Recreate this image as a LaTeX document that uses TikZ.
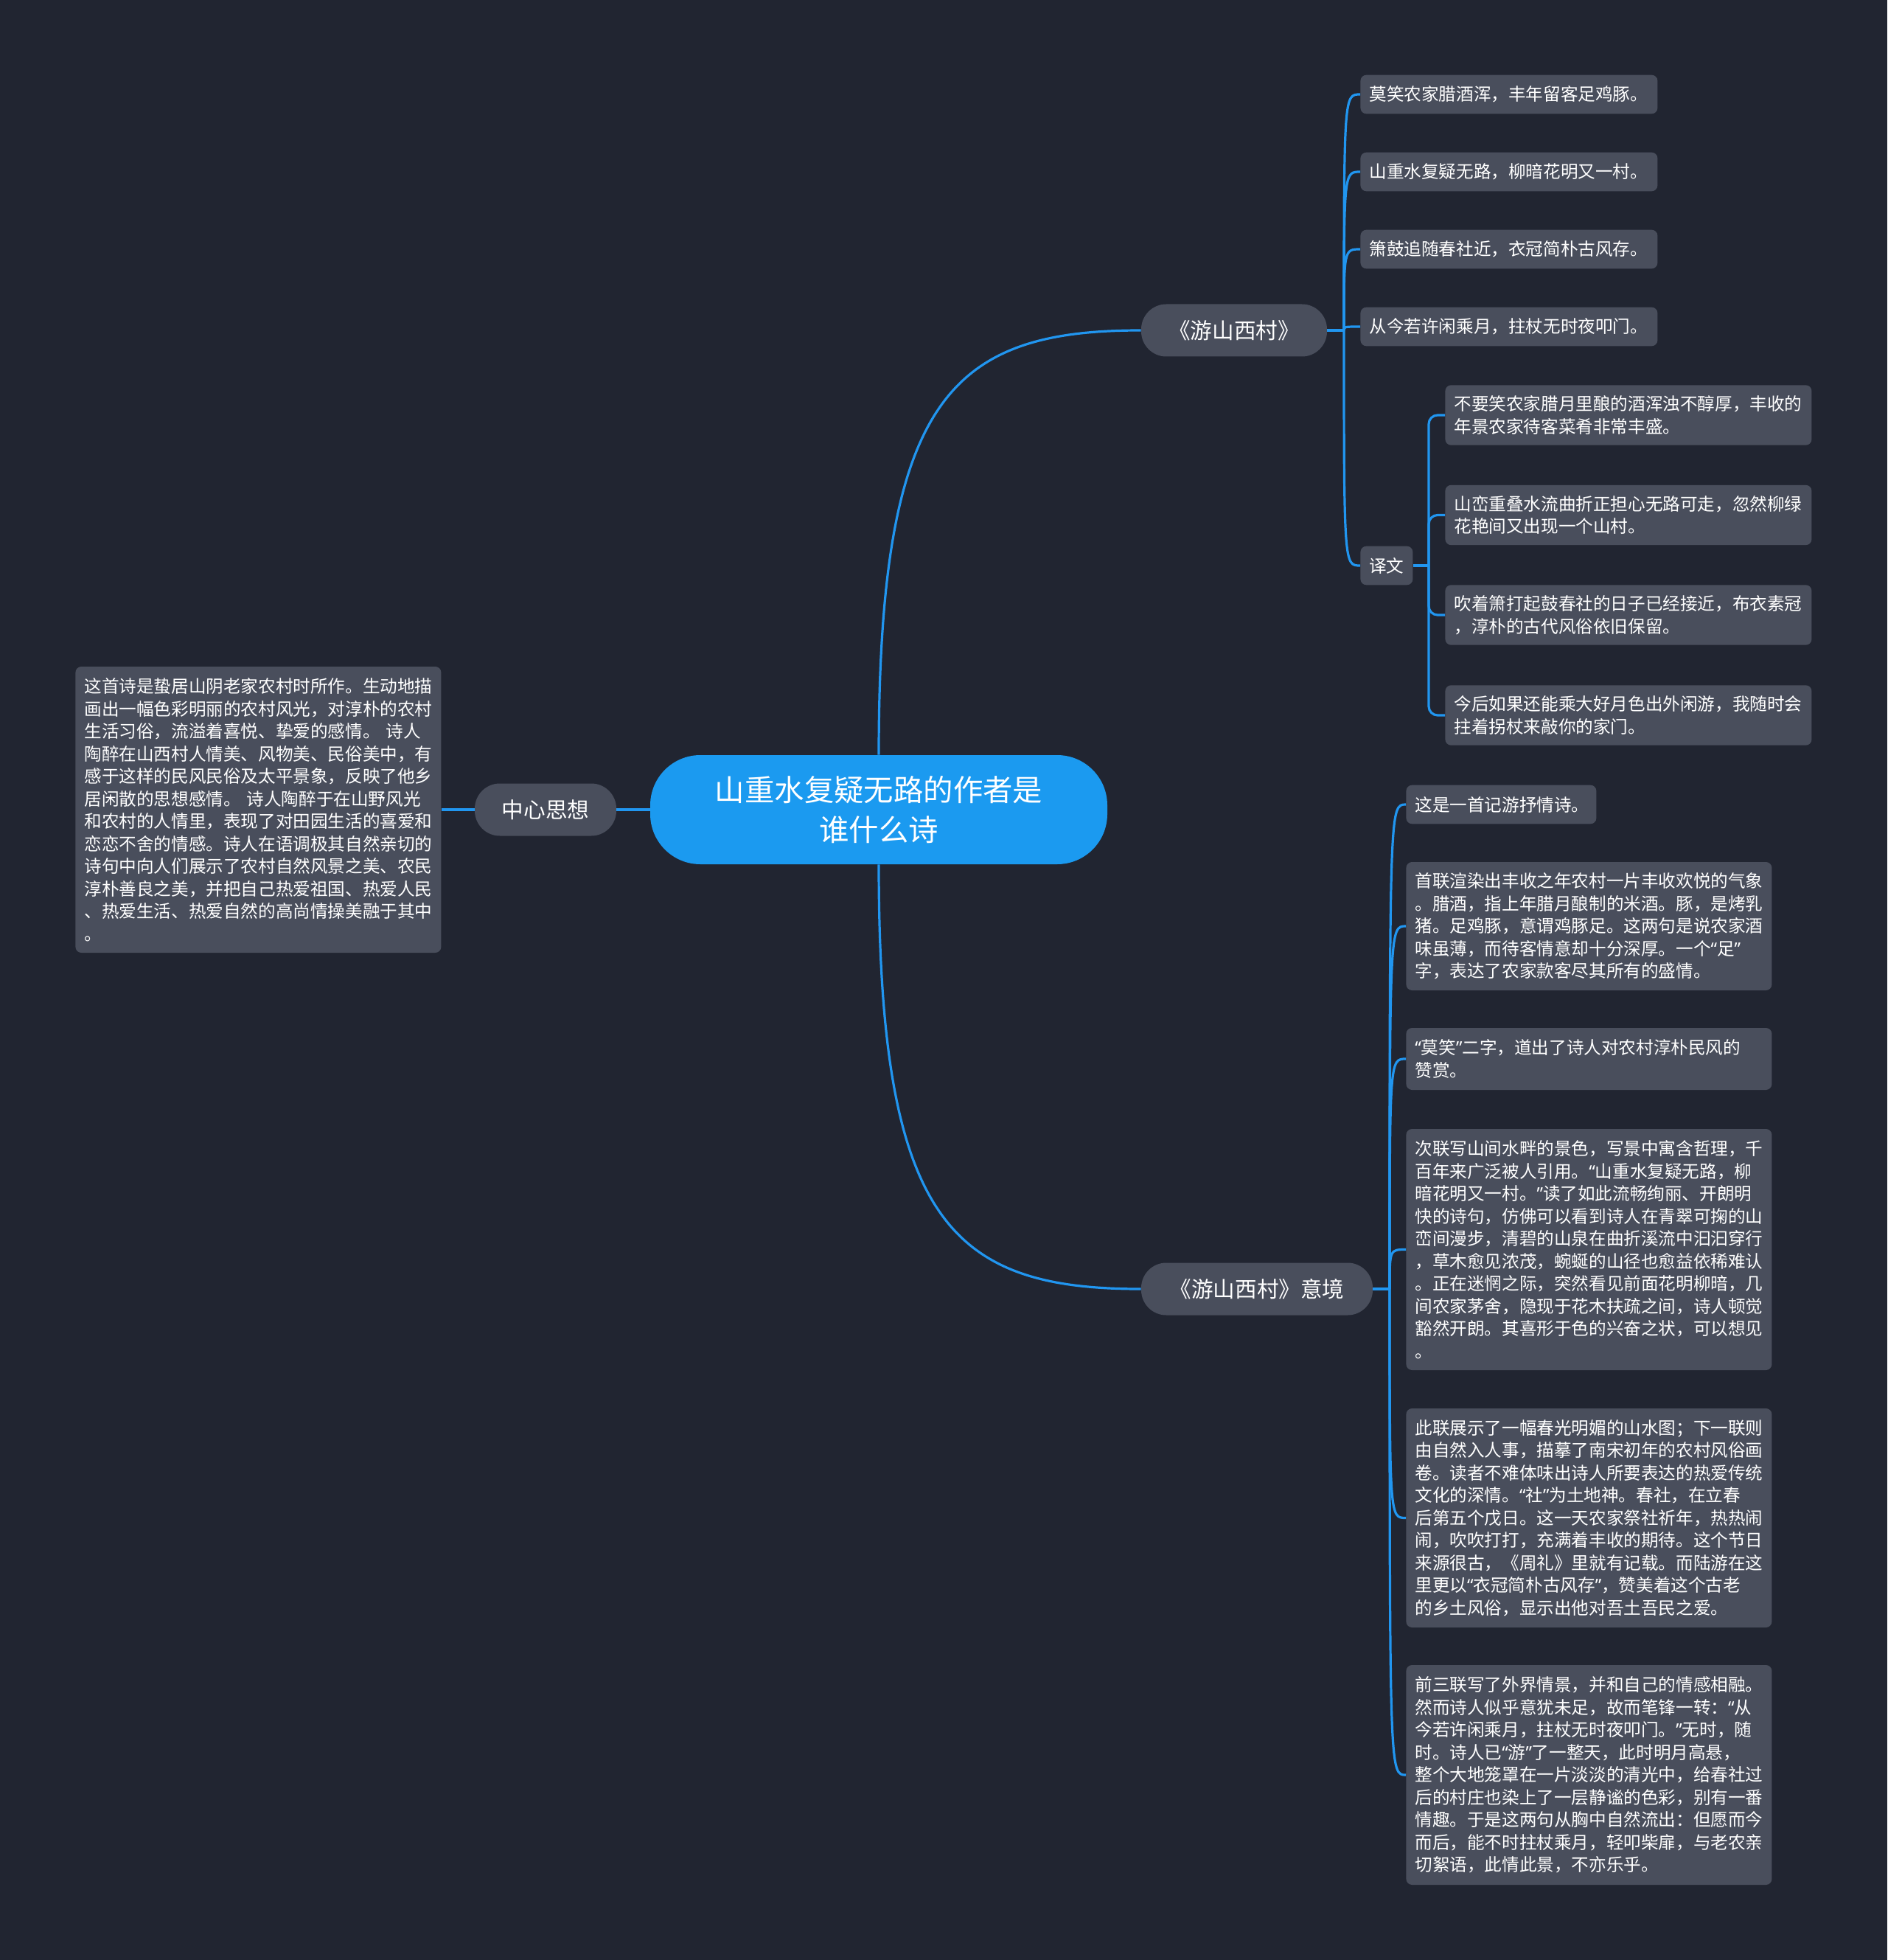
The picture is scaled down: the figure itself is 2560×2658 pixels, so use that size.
\documentclass[tikz,border=0pt]{standalone}
\usepackage{fontspec}
\setmainfont{Noto Sans CJK SC}
\newfontfamily\qfont{Noto Sans}
\newcommand\myoq{{\qfont “}}
\newcommand\mycq{{\qfont ”}}
\definecolor{bgc}{HTML}{212531}
\definecolor{nodefill}{HTML}{494E5C}
\definecolor{mainblue}{HTML}{1B9AF0}
\definecolor{linkblue}{HTML}{2196F0}
\begin{document}
\begin{tikzpicture}[x=0.5pt,y=-0.5pt,
  conn/.style={draw=linkblue, line width=1.6pt},
  leaf/.style={fill=nodefill, rounded corners=4pt, text=white,
    font=\fontsize{11.8pt}{15.25pt}\selectfont, align=left,
    inner xsep=6pt, inner ysep=0pt, anchor=west},
  branch/.style={fill=nodefill, rounded corners=17pt, text=white,
    font=\fontsize{14.8pt}{18pt}\selectfont, align=center,
    inner sep=0pt, minimum height=35.5pt},
  rootnode/.style={fill=mainblue, rounded corners=34pt, text=white,
    font=\fontsize{20.2pt}{27pt}\selectfont, align=center,
    inner sep=0pt, minimum width=310pt, minimum height=74pt}
]
\useasboundingbox (0,0) rectangle (2560,2658);
\fill[bgc] (0,0) rectangle (2560,2658);

% root and branches
\node[rootnode] (root) at (1192,1098) {山重水复疑无路的作者是\\谁什么诗};
\node[branch, minimum width=96pt] (zx) at (740,1098) {中心思想};
\node[branch, minimum width=126pt] (ysxc) at (1674,448) {《游山西村》};
\node[branch, minimum width=157pt] (yj) at (1705,1748) {《游山西村》意境};

% left text
\node[leaf, text width=236pt, minimum height=194pt] (left) at (102,1098) {这首诗是蛰居山阴老家农村时所作。生动地描\\
画出一幅色彩明丽的农村风光，对淳朴的农村\\
生活习俗，流溢着喜悦、挚爱的感情。~诗人\\
陶醉在山西村人情美、风物美、民俗美中，有\\
感于这样的民风民俗及太平景象，反映了他乡\\
居闲散的思想感情。~诗人陶醉于在山野风光\\
和农村的人情里，表现了对田园生活的喜爱和\\
恋恋不舍的情感。诗人在语调极其自然亲切的\\
诗句中向人们展示了农村自然风景之美、农民\\
淳朴善良之美，并把自己热爱祖国、热爱人民\\
、热爱生活、热爱自然的高尚情操美融于其中\\
。};

% poem lines
\node[leaf, text width=189.5pt, minimum height=26.3pt] (c1) at (1845,128) {莫笑农家腊酒浑，丰年留客足鸡豚。};
\node[leaf, text width=189.5pt, minimum height=26.3pt] (c2) at (1845,233) {山重水复疑无路，柳暗花明又一村。};
\node[leaf, text width=189.5pt, minimum height=26.3pt] (c3) at (1845,338) {箫鼓追随春社近，衣冠简朴古风存。};
\node[leaf, text width=189.5pt, minimum height=26.3pt] (c4) at (1845,443) {从今若许闲乘月，拄杖无时夜叩门。};
\node[leaf, inner xsep=0pt, align=center, minimum width=35.5pt, minimum height=26.3pt] (yiwen) at (1845,767) {译文};

% translation
\node[leaf, text width=236.5pt, minimum height=40.7pt] (ta) at (1960,563) {不要笑农家腊月里酿的酒浑浊不醇厚，丰收的\\年景农家待客菜肴非常丰盛。};
\node[leaf, text width=236.5pt, minimum height=40.7pt] (tb) at (1960,698.5) {山峦重叠水流曲折正担心无路可走，忽然柳绿\\花艳间又出现一个山村。};
\node[leaf, text width=236.5pt, minimum height=40.7pt] (tc) at (1960,834) {吹着箫打起鼓春社的日子已经接近，布衣素冠\\，淳朴的古代风俗依旧保留。};
\node[leaf, text width=236.5pt, minimum height=40.7pt] (td) at (1960,970) {今后如果还能乘大好月色出外闲游，我随时会\\拄着拐杖来敲你的家门。};

% yijing
\node[leaf, text width=117pt, minimum height=26.3pt] (y1) at (1907,1091) {这是一首记游抒情诗。};
\node[leaf, text width=236pt, minimum height=87pt] (y2) at (1907,1256) {首联渲染出丰收之年农村一片丰收欢悦的气象\\
。腊酒，指上年腊月酿制的米酒。豚，是烤乳\\
猪。足鸡豚，意谓鸡豚足。这两句是说农家酒\\
味虽薄，而待客情意却十分深厚。一个\myoq 足\mycq\\
字，表达了农家款客尽其所有的盛情。};
\node[leaf, text width=236pt, minimum height=42pt] (y3) at (1907,1436) {\myoq 莫笑\mycq 二字，道出了诗人对农村淳朴民风的\\赞赏。};
\node[leaf, text width=236pt, minimum height=163.5pt] (y4) at (1907,1694.5) {次联写山间水畔的景色，写景中寓含哲理，千\\
百年来广泛被人引用。\myoq 山重水复疑无路，柳\\
暗花明又一村。\mycq 读了如此流畅绚丽、开朗明\\
快的诗句，仿佛可以看到诗人在青翠可掬的山\\
峦间漫步，清碧的山泉在曲折溪流中汩汩穿行\\
，草木愈见浓茂，蜿蜒的山径也愈益依稀难认\\
。正在迷惘之际，突然看见前面花明柳暗，几\\
间农家茅舍，隐现于花木扶疏之间，诗人顿觉\\
豁然开朗。其喜形于色的兴奋之状，可以想见\\
。};
\node[leaf, text width=236pt, minimum height=148.5pt] (y5) at (1907,2058.5) {此联展示了一幅春光明媚的山水图；下一联则\\
由自然入人事，描摹了南宋初年的农村风俗画\\
卷。读者不难体味出诗人所要表达的热爱传统\\
文化的深情。\myoq 社\mycq 为土地神。春社，在立春\\
后第五个戊日。这一天农家祭社祈年，热热闹\\
闹，吹吹打打，充满着丰收的期待。这个节日\\
来源很古，《周礼》里就有记载。而陆游在这\\
里更以\myoq 衣冠简朴古风存\mycq ，赞美着这个古老\\
的乡土风俗，显示出他对吾土吾民之爱。};
\node[leaf, text width=236pt, minimum height=149pt] (y6) at (1907,2407) {前三联写了外界情景，并和自己的情感相融。\\
然而诗人似乎意犹未足，故而笔锋一转：\myoq 从\\
今若许闲乘月，拄杖无时夜叩门。\mycq 无时，随\\
时。诗人已\myoq 游\mycq 了一整天，此时明月高悬，\\
整个大地笼罩在一片淡淡的清光中，给春社过\\
后的村庄也染上了一层静谧的色彩，别有一番\\
情趣。于是这两句从胸中自然流出：但愿而今\\
而后，能不时拄杖乘月，轻叩柴扉，与老农亲\\
切絮语，此情此景，不亦乐乎。};

% junctions
\coordinate (j1) at (1823,448);
\coordinate (j2) at (1885,1748);
\coordinate (j3) at (1938,767);

% connectors
\draw[conn] (root.north) .. controls (1192,540) and (1290,448) .. (ysxc.west);
\draw[conn] (root.south) .. controls (1192,1656) and (1290,1748) .. (yj.west);
\draw[conn] (root.west) -- (zx.east);
\draw[conn] (zx.west) -- (left.east);

\draw[conn] (ysxc.east) -- (j1);
\foreach \c in {c1,c2,c3,c4,yiwen}
  \draw[conn] (j1) .. controls (j1 |- \c.west) .. (\c.west);
\draw[conn] (yiwen.east) -- (j3);
\foreach \c in {ta,tb,tc,td}
  \draw[conn, rounded corners=6pt] (j3) |- (\c.west);

\draw[conn] (yj.east) -- (j2);
\foreach \c in {y1,y2,y3,y4,y5,y6}
  \draw[conn] (j2) .. controls (j2 |- \c.west) .. (\c.west);
\end{tikzpicture}
\end{document}
